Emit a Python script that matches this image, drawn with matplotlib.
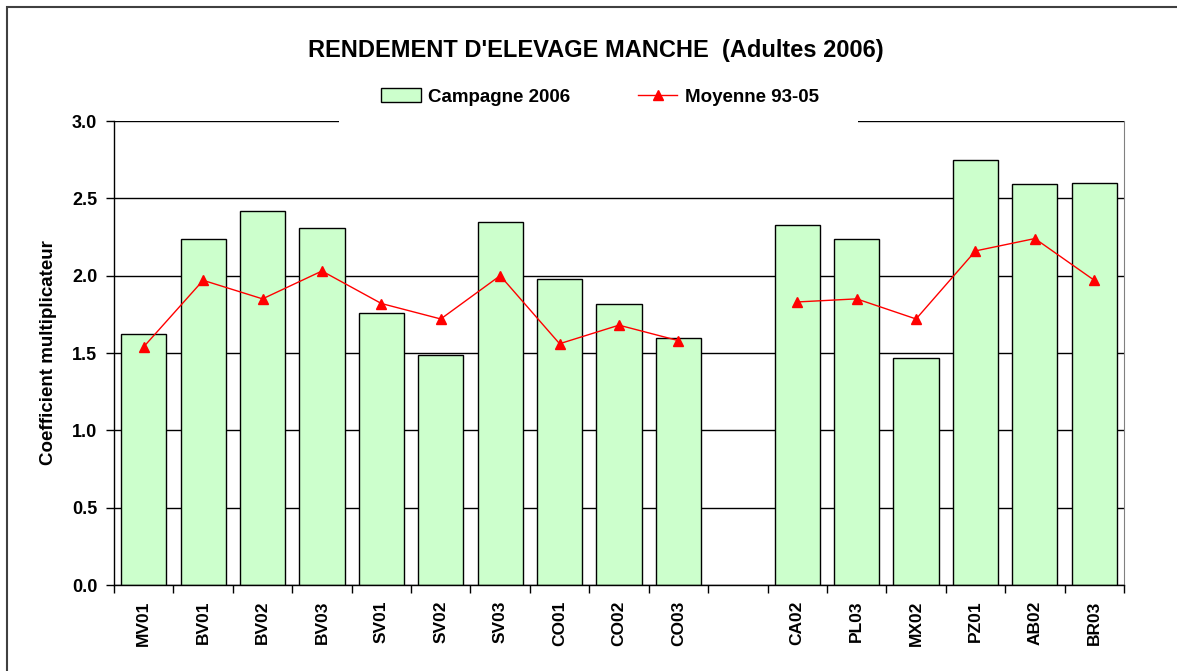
import matplotlib.pyplot as plt
import matplotlib.patches as mpatches
from matplotlib.lines import Line2D
import numpy as np

plt.rcParams['font.family'] = ['Liberation Sans', 'DejaVu Sans']

# data ("" = empty slot between the two groups)
sites = ["MV01", "BV01", "BV02", "BV03", "SV01", "SV02", "SV03", "CO01", "CO02", "CO03",
         "", "CA02", "PL03", "MX02", "PZ01", "AB02", "BR03"]
campagne_2006 = [1.62, 2.24, 2.42, 2.31, 1.76, 1.49, 2.35, 1.98, 1.82, 1.60,
                 np.nan, 2.33, 2.24, 1.47, 2.75, 2.59, 2.60]
moyenne_93_05 = [1.54, 1.97, 1.85, 2.03, 1.82, 1.72, 2.00, 1.56, 1.68, 1.58,
                 np.nan, 1.83, 1.85, 1.72, 2.16, 2.24, 1.97]

W, H = 1177, 671
fig = plt.figure(figsize=(W / 100, H / 100), dpi=100)
ax = fig.add_axes([114 / W, 1 - 585 / H, (1124 - 114) / W, (585 - 121) / H])

x = np.arange(len(sites))
ax.bar(x, campagne_2006, width=0.76, color="#CCFFCC", edgecolor="black",
       linewidth=1, zorder=2)
ax.plot(x, moyenne_93_05, color="red", linewidth=1, marker="^",
        markersize=7, zorder=3)

ax.set_xlim(-0.5, len(sites) - 0.5)
ax.set_ylim(0, 3.0)
ax.set_yticks(np.arange(0, 3.01, 0.5))
ax.set_yticklabels([f"{v:.1f}" for v in np.arange(0, 3.01, 0.5)],
                   fontsize=13, fontweight="bold")
ax.yaxis.grid(True, color="black", linewidth=1, zorder=0)
ax.set_axisbelow(True)

# ticks at category boundaries, labels at centres
ax.set_xticks(np.arange(-0.5, len(sites), 1.0))
ax.set_xticklabels([])
ax.set_xticks(x, minor=True)
ax.set_xticklabels(sites, minor=True, rotation=90, fontsize=12.5, fontweight="bold")
ax.tick_params(axis="x", which="minor", length=0, pad=11)
ax.tick_params(axis="x", which="major", length=6, width=1, direction="out")
ax.tick_params(axis="y", length=6, width=1, direction="out", pad=6)

ax.spines["top"].set_visible(False)
ax.spines["right"].set_color("#808080")
ax.spines["left"].set_linewidth(1)
ax.spines["bottom"].set_linewidth(1)

ax.set_ylabel("Coefficient multiplicateur", fontsize=13.5, fontweight="bold")
ax.yaxis.set_label_coords(-0.056, 0.5)

fig.text(596 / W, 1 - 50 / H, "RENDEMENT D'ELEVAGE MANCHE  (Adultes 2006)",
         ha="center", va="center", fontsize=17, fontweight="bold")

# white strip behind the legend hiding the top gridline
fig.patches.append(mpatches.Rectangle((339 / W, 1 - 124 / H), (858 - 339) / W, 6 / H,
                                      transform=fig.transFigure, facecolor="white",
                                      edgecolor="none", zorder=5))

handles = [mpatches.Patch(facecolor="#CCFFCC", edgecolor="black", linewidth=1),
           Line2D([], [], color="red", linewidth=1, marker="^", markersize=7)]
leg = fig.legend(handles, ["Campagne 2006", "Moyenne 93-05"], ncol=2,
                 loc="center", bbox_to_anchor=(600 / W, 1 - 97 / H), frameon=False,
                 prop={"size": 13.5, "weight": "bold"}, handlelength=2.1,
                 handletextpad=0.4, columnspacing=3.6)
leg.set_zorder(6)

# outer chart frame
fig.patches.append(mpatches.Rectangle((7 / W, -0.05), 1.1, 1 - 7 / H + 0.05,
                                      transform=fig.transFigure, facecolor="none",
                                      edgecolor="#404040", linewidth=1.5, zorder=10))

fig.savefig("out.png", dpi=100)
